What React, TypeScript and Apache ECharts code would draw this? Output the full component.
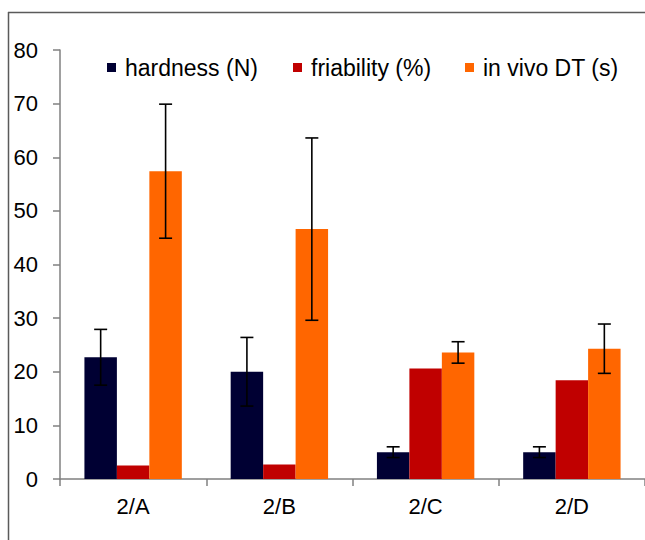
import React, { useEffect, useRef } from "react";
import * as echarts from "echarts";

// Tablet formulations
const categories = ["2/A", "2/B", "2/C", "2/D"];

// Mean values
const hardness = [22.7, 20.0, 5.0, 5.0];
const friability = [2.5, 2.7, 20.6, 18.4];
const inVivoDT = [57.4, 46.6, 23.6, 24.3];

// Standard deviations (error bars)
const hardnessSD = [5.2, 6.4, 1.0, 1.0];
const inVivoDTSD = [12.5, 17.0, 2.0, 4.6];

const yTicks = { min: 0, max: 80, interval: 10 };

const seriesNames = ["hardness (N)", "friability (%)", "in vivo DT (s)"];
const colors = ["#000033", "#C00000", "#FF6600"];

const FONT = "'Liberation Sans', Arial, sans-serif";
const BAR_FRACTION = 0.222;

export default function App() {
  const ref = useRef<HTMLDivElement>(null);

  useEffect(() => {
    if (!ref.current) return;
    const chart = echarts.init(ref.current, null, { renderer: "svg" });

    // error bar rows: [category index, low, high, bar slot in the group]
    const errRows: number[][] = [];
    hardness.forEach((v, i) => errRows.push([i, v - hardnessSD[i], v + hardnessSD[i], 0]));
    inVivoDT.forEach((v, i) => errRows.push([i, v - inVivoDTSD[i], v + inVivoDTSD[i], 2]));

    const barSeries = [hardness, friability, inVivoDT].map((d, k) => ({
      name: seriesNames[k],
      type: "bar",
      data: d,
      barWidth: BAR_FRACTION * 100 + "%",
      barGap: "0%",
      itemStyle: { color: colors[k] },
      z: 2,
    }));

    // one legend entry per block so each marker sits at its own x
    const legendLeft = [102, 288, 460];
    const legends = seriesNames.map((name, k) => ({
      left: legendLeft[k],
      top: 51,
      itemWidth: 9,
      itemHeight: 9,
      icon: "rect",
      data: [name],
      textStyle: {
        fontFamily: FONT,
        fontSize: 23,
        color: "#000",
        padding: [0, 0, 0, 4],
      },
    }));

    const frameStyle = { stroke: "#5a5a5a", lineWidth: 1.5 };

    chart.setOption({
      animation: false,
      backgroundColor: "#ffffff",
      grid: { left: 60, top: 50, bottom: 61, right: -5 },
      legend: legends,
      graphic: [
        { type: "line", shape: { x1: 8, y1: 12.5, x2: 645, y2: 12.5 }, style: frameStyle, silent: true, z: 0 },
        { type: "line", shape: { x1: 8.5, y1: 12, x2: 8.5, y2: 540 }, style: frameStyle, silent: true, z: 0 },
      ],
      xAxis: {
        type: "category",
        data: categories,
        boundaryGap: true,
        axisLine: { lineStyle: { color: "#808080", width: 1.5 } },
        axisTick: { show: true, length: 7, lineStyle: { color: "#808080", width: 1.5 } },
        axisLabel: { fontFamily: FONT, fontSize: 22, color: "#000", margin: 16 },
      },
      yAxis: {
        type: "value",
        min: yTicks.min,
        max: yTicks.max,
        interval: yTicks.interval,
        axisLine: { show: true, lineStyle: { color: "#808080", width: 1.5 } },
        axisTick: { show: true, length: 7, lineStyle: { color: "#808080", width: 1.5 } },
        splitLine: { show: false },
        axisLabel: { fontFamily: FONT, fontSize: 22, color: "#000", margin: 22 },
      },
      series: [
        ...barSeries,
        {
          type: "custom",
          name: "error",
          data: errRows,
          encode: { x: 0, y: [1, 2] },
          z: 5,
          silent: true,
          renderItem: (params: any, api: any) => {
            const cat = api.value(0);
            const lo = api.value(1);
            const hi = api.value(2);
            const slot = api.value(3);
            const top = api.coord([cat, hi]);
            const bot = api.coord([cat, lo]);
            const bw = api.size([1, 0])[0] * BAR_FRACTION;
            const x = top[0] + (slot - 1) * bw;
            const half = 6.5;
            const style = { stroke: "#000", lineWidth: 1.6 };
            return {
              type: "group",
              children: [
                { type: "line", shape: { x1: x, y1: top[1], x2: x, y2: bot[1] }, style },
                { type: "line", shape: { x1: x - half, y1: top[1], x2: x + half, y2: top[1] }, style },
                { type: "line", shape: { x1: x - half, y1: bot[1], x2: x + half, y2: bot[1] }, style },
              ],
            };
          },
        },
      ],
    });

    return () => chart.dispose();
  }, []);

  return (
    <div
      ref={ref}
      style={{ position: "absolute", left: 0, top: 0, width: 645, height: 540 }}
    />
  );
}
